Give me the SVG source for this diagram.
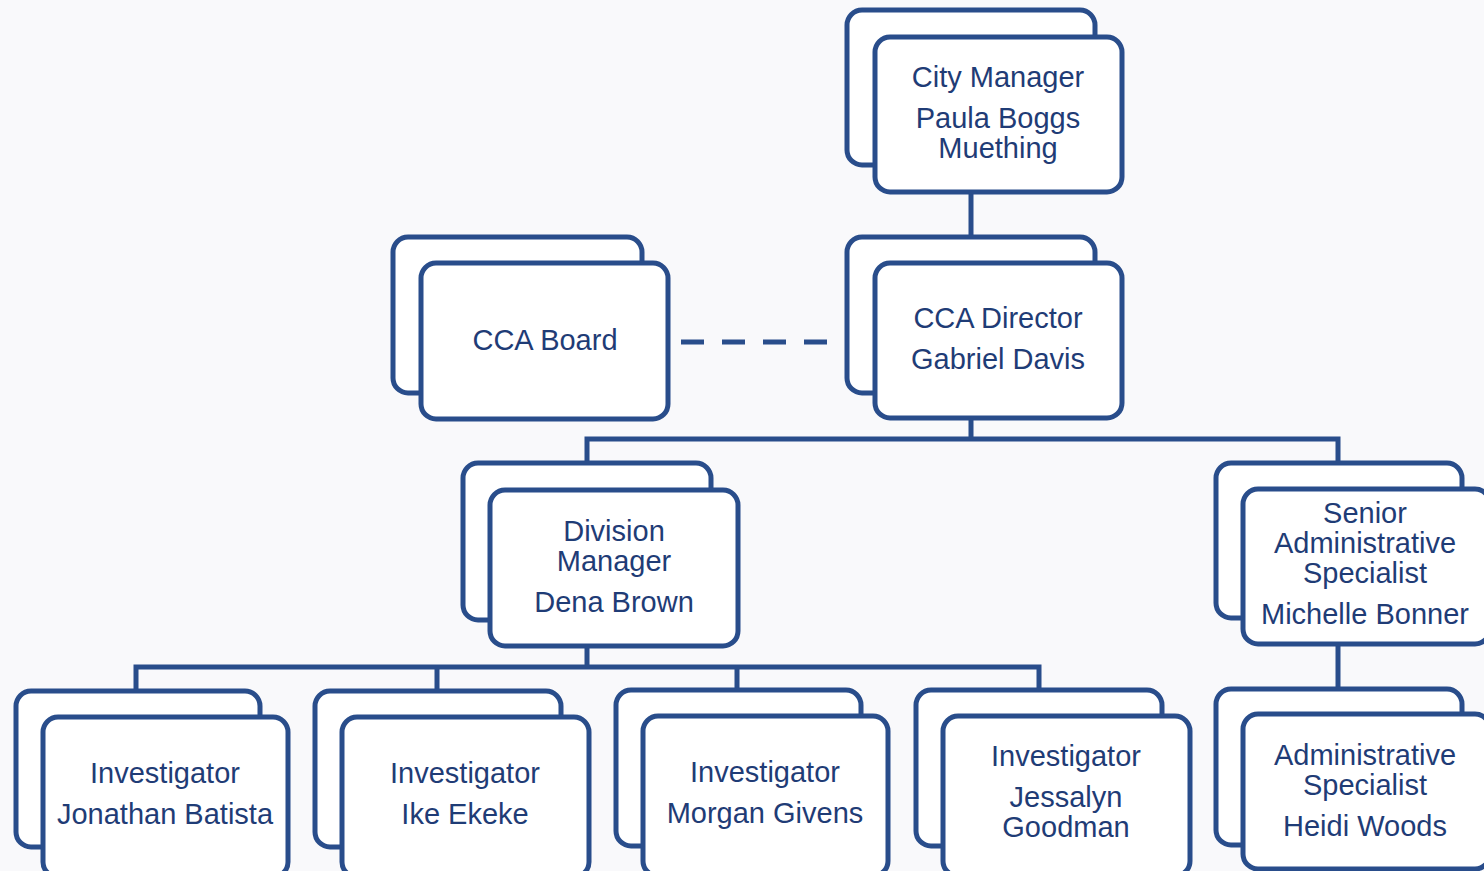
<svg xmlns="http://www.w3.org/2000/svg" width="1484" height="871" viewBox="0 0 1484 871">
<style>
.b{fill:#fff;stroke:#294d8b;stroke-width:5}
.c{fill:none;stroke:#294d8b;stroke-width:5}
.t{font-family:"Liberation Sans",Arial,sans-serif;font-size:29px;fill:#1f3c76;text-anchor:middle}
</style>
<rect width="1484" height="871" fill="#f9f9fb"/>
<g id="connectors">
<path class="c" d="M971 191V237"/>
<path class="c" d="M681 342H829" stroke-dasharray="23 18"/>
<path class="c" d="M971 418V439M587 463V439H1338V463"/>
<path class="c" d="M587 646V667M136 691V667H1039V691M437 667V691M737 667V691"/>
<path class="c" d="M1338 644V689"/>
</g>
<g id="city-manager">
<rect class="b" x="847" y="10" width="248" height="155" rx="15"/>
<rect class="b" x="875" y="37" width="247" height="155" rx="15"/>
<text class="t" x="998" y="87">City Manager</text>
<text class="t" x="998" y="128">Paula Boggs</text>
<text class="t" x="998" y="158">Muething</text>
</g>
<g id="cca-board">
<rect class="b" x="393" y="237" width="249" height="156" rx="15"/>
<rect class="b" x="421" y="263" width="247" height="156" rx="15"/>
<text class="t" x="545" y="350">CCA Board</text>
</g>
<g id="cca-director">
<rect class="b" x="847" y="237" width="248" height="156" rx="15"/>
<rect class="b" x="875" y="263" width="247" height="155" rx="15"/>
<text class="t" x="998" y="328">CCA Director</text>
<text class="t" x="998" y="369">Gabriel Davis</text>
</g>
<g id="division-manager">
<rect class="b" x="463" y="463" width="248" height="157" rx="15"/>
<rect class="b" x="490" y="490" width="248" height="156" rx="15"/>
<text class="t" x="614" y="541">Division</text>
<text class="t" x="614" y="571">Manager</text>
<text class="t" x="614" y="612">Dena Brown</text>
</g>
<g id="senior-admin">
<rect class="b" x="1216" y="463" width="246" height="155" rx="15"/>
<rect class="b" x="1243" y="489" width="247" height="155" rx="15"/>
<text class="t" x="1365" y="523">Senior</text>
<text class="t" x="1365" y="553">Administrative</text>
<text class="t" x="1365" y="583">Specialist</text>
<text class="t" x="1365" y="624">Michelle Bonner</text>
</g>
<g id="investigator-batista">
<rect class="b" x="16" y="691" width="244" height="156" rx="15"/>
<rect class="b" x="43" y="717" width="245" height="160" rx="15"/>
<text class="t" x="165" y="783">Investigator</text>
<text class="t" x="165" y="824">Jonathan Batista</text>
</g>
<g id="investigator-ekeke">
<rect class="b" x="315" y="691" width="246" height="156" rx="15"/>
<rect class="b" x="342" y="717" width="247" height="160" rx="15"/>
<text class="t" x="465" y="783">Investigator</text>
<text class="t" x="465" y="824">Ike Ekeke</text>
</g>
<g id="investigator-givens">
<rect class="b" x="616" y="690" width="245" height="156" rx="15"/>
<rect class="b" x="643" y="716" width="245" height="160" rx="15"/>
<text class="t" x="765" y="782">Investigator</text>
<text class="t" x="765" y="823">Morgan Givens</text>
</g>
<g id="investigator-goodman">
<rect class="b" x="916" y="690" width="246" height="156" rx="15"/>
<rect class="b" x="943" y="716" width="247" height="160" rx="15"/>
<text class="t" x="1066" y="766">Investigator</text>
<text class="t" x="1066" y="807">Jessalyn</text>
<text class="t" x="1066" y="837">Goodman</text>
</g>
<g id="admin-specialist">
<rect class="b" x="1216" y="689" width="246" height="156" rx="15"/>
<rect class="b" x="1243" y="714" width="247" height="155" rx="15"/>
<text class="t" x="1365" y="765">Administrative</text>
<text class="t" x="1365" y="795">Specialist</text>
<text class="t" x="1365" y="836">Heidi Woods</text>
</g>
</svg>
